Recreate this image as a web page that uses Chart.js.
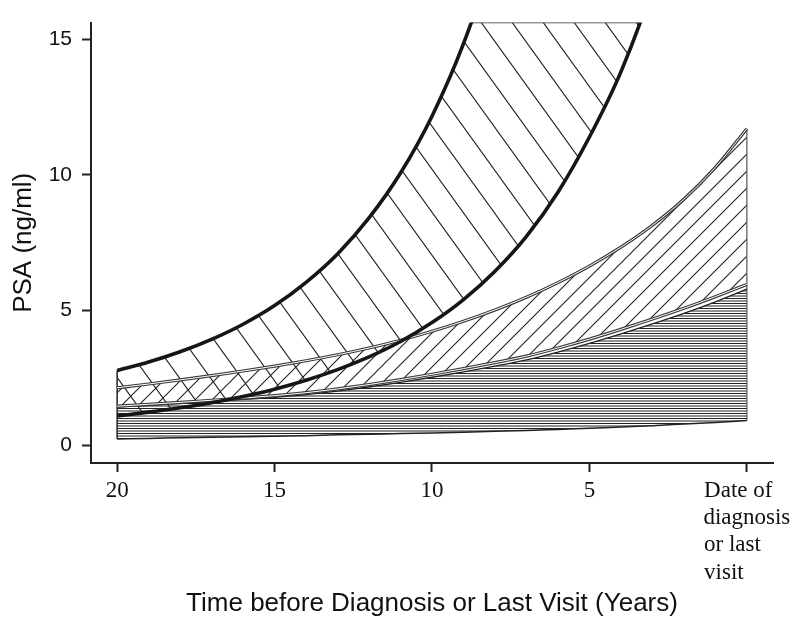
<!DOCTYPE html>
<html>
<head>
<meta charset="utf-8">
<script src="https://cdn.jsdelivr.net/npm/chart.js@4.4.1/dist/chart.umd.min.js"></script>
<style>
  html, body { margin: 0; padding: 0; background: #fff; }
  canvas { display: block; }
</style>
</head>
<body>
<canvas id="psaChart" width="798" height="626"></canvas>
<script>
// years before diagnosis (20 .. 0)
const years = [20, 19, 18, 17, 16, 15, 14, 13, 12, 11, 10, 9, 8, 7, 6, 5, 4, 3, 2, 1, 0];

// band 1 (thick outline, "\" hatch) - runs off the top of the plot
const band1Upper = [2.77, 3.08, 3.46, 3.92, 4.48, 5.17, 6.03, 7.08, 8.41, 10.07, 12.17, 14.85, 18.3, 22.7, 28.5, 36.1, 46.2, 59.5, 77.5, 102, 135];
const band1Lower = [1.09, 1.23, 1.39, 1.58, 1.81, 2.08, 2.41, 2.80, 3.27, 3.84, 4.54, 5.39, 6.44, 7.73, 9.36, 11.4, 13.81, 16.93, 20.88, 25.88, 32.2];

// band 2 (double outline, "/" hatch)
const band2Upper = [2.13, 2.27, 2.42, 2.58, 2.75, 2.93, 3.13, 3.35, 3.60, 3.89, 4.22, 4.59, 5.01, 5.48, 6.02, 6.63, 7.33, 8.14, 9.10, 10.28, 11.71];
const band2Lower = [1.45, 1.52, 1.59, 1.67, 1.75, 1.84, 1.95, 2.09, 2.25, 2.43, 2.63, 2.84, 3.06, 3.30, 3.60, 3.93, 4.29, 4.67, 5.07, 5.50, 5.95];

// band 3 (horizontal hatch)
const band3Upper = [1.42, 1.48, 1.55, 1.62, 1.70, 1.78, 1.88, 2.01, 2.16, 2.33, 2.52, 2.72, 2.93, 3.16, 3.45, 3.77, 4.12, 4.49, 4.88, 5.31, 5.78];
const band3Lower = [0.24, 0.26, 0.28, 0.30, 0.32, 0.34, 0.36, 0.39, 0.41, 0.44, 0.46, 0.49, 0.52, 0.55, 0.59, 0.63, 0.68, 0.73, 0.79, 0.85, 0.92];

const xTickValues = [20, 15, 10, 5, 0];
const xTickLabels = ['20', '15', '10', '5', ['Date of   ', 'diagnosis', 'or last     ', 'visit        ']];
const yTickValues = [0, 5, 10, 15];

const xMin = -0.83, xMax = 20.83;
const yMin = -0.65, yMax = 15.63;

function pts(vals) {
  return vals.map((v, i) => ({ x: years[i], y: v }));
}

// where a rising curve leaves the top of the plot
function crossAt(vals, limit) {
  for (let i = 1; i < vals.length; i++) {
    if (vals[i] >= limit) {
      const f = (limit - vals[i - 1]) / (vals[i] - vals[i - 1]);
      return years[i - 1] + f * (years[i] - years[i - 1]);
    }
  }
  return years[years.length - 1];
}

function hatch(w, h, lw, draw) {
  const c = document.createElement('canvas');
  c.width = w; c.height = h;
  const g = c.getContext('2d');
  g.strokeStyle = '#222';
  g.lineWidth = lw;
  g.beginPath();
  draw(g, w, h);
  g.stroke();
  return g.createPattern(c, 'repeat');
}

const ctx = document.getElementById('psaChart').getContext('2d');

const backslash = hatch(31, 43, 1.1, (g, w, h) => {
  for (let k = -1; k <= 1; k++) { g.moveTo(k * w - w, -h); g.lineTo(k * w + 2 * w, 2 * h); }
});
const slash = hatch(17, 17, 1.1, (g, w, h) => {
  for (let k = -1; k <= 1; k++) { g.moveTo(k * w - w, 2 * h); g.lineTo(k * w + 2 * w, -h); }
});
const horiz = hatch(4, 5, 1, (g, w, h) => {
  g.moveTo(0, 1); g.lineTo(w, 1);
  g.moveTo(0, 3.5); g.lineTo(w, 3.5);
});

function line(data, color, width, extra) {
  return Object.assign({
    data: data,
    borderColor: color,
    borderWidth: width,
    pointRadius: 0,
    fill: false,
    cubicInterpolationMode: 'monotone'
  }, extra || {});
}

const datasets = [
  line(pts(band1Upper), '#161616', 3.6, { fill: '+1', backgroundColor: backslash }),
  line(pts(band1Lower), '#161616', 3.6),
  line([{ x: crossAt(band1Upper, yMax), y: yMax }, { x: crossAt(band1Lower, yMax), y: yMax }], '#333', 1.5),
  line(pts(band2Upper), '#ffffff', 1.0),
  line(pts(band2Lower), '#ffffff', 1.0),
  line(pts(band2Upper), '#3a3a3a', 3.2, { fill: '+1', backgroundColor: slash }),
  line(pts(band2Lower), '#3a3a3a', 3.2),
  line(pts(band3Upper), '#222', 1.3, { fill: '+1', backgroundColor: horiz }),
  line(pts(band3Lower), '#222', 1.5),
  line([{ x: years[0], y: band3Lower[0] }, { x: years[0], y: band1Upper[0] }], '#222', 1.5),
  line([{ x: years[years.length - 1], y: band3Lower[years.length - 1] }, { x: years[years.length - 1], y: band2Upper[years.length - 1] }], '#555', 1.2)
];

Chart.defaults.font.family = "'Liberation Sans', Arial, sans-serif";
Chart.defaults.color = '#111';

const myChart = new Chart(ctx, {
  type: 'line',
  data: { datasets: datasets },
  options: {
    responsive: false,
    animation: false,
    layout: { padding: { top: 15, right: 25, left: 0, bottom: 0 } },
    plugins: {
      legend: { display: false },
      tooltip: { enabled: false },
      filler: { drawTime: 'beforeDatasetsDraw' }
    },
    scales: {
      x: {
        type: 'linear',
        reverse: true,
        min: xMin,
        max: xMax,
        afterBuildTicks: s => { s.ticks = xTickValues.map(v => ({ value: v })); },
        afterFit: s => { s.height = 163; },
        grid: { drawOnChartArea: false, drawTicks: true, tickLength: 9, tickWidth: 2, tickColor: '#222' },
        border: { display: true, color: '#222', width: 2 },
        ticks: {
          autoSkip: false,
          maxRotation: 0,
          padding: 5,
          color: '#111',
          font: { family: "'Liberation Serif', 'Times New Roman', serif", size: 23, lineHeight: 1.187 },
          callback: v => xTickLabels[xTickValues.indexOf(v)]
        },
        title: {
          display: true,
          text: 'Time before Diagnosis or Last Visit (Years)',
          color: '#111',
          font: { size: 26 },
          padding: { top: 0, bottom: 7 }
        }
      },
      y: {
        min: yMin,
        max: yMax,
        afterBuildTicks: s => { s.ticks = yTickValues.map(v => ({ value: v })); },
        afterFit: s => { s.width = 91; },
        grid: { drawOnChartArea: false, drawTicks: true, tickLength: 9, tickWidth: 2, tickColor: '#222' },
        border: { display: true, color: '#222', width: 2 },
        ticks: { padding: 10, color: '#111', font: { size: 21 } },
        title: {
          display: true,
          text: 'PSA (ng/ml)',
          color: '#111',
          font: { size: 26 },
          padding: { top: 8, bottom: 0 }
        }
      }
    }
  }
});
</script>
</body>
</html>
